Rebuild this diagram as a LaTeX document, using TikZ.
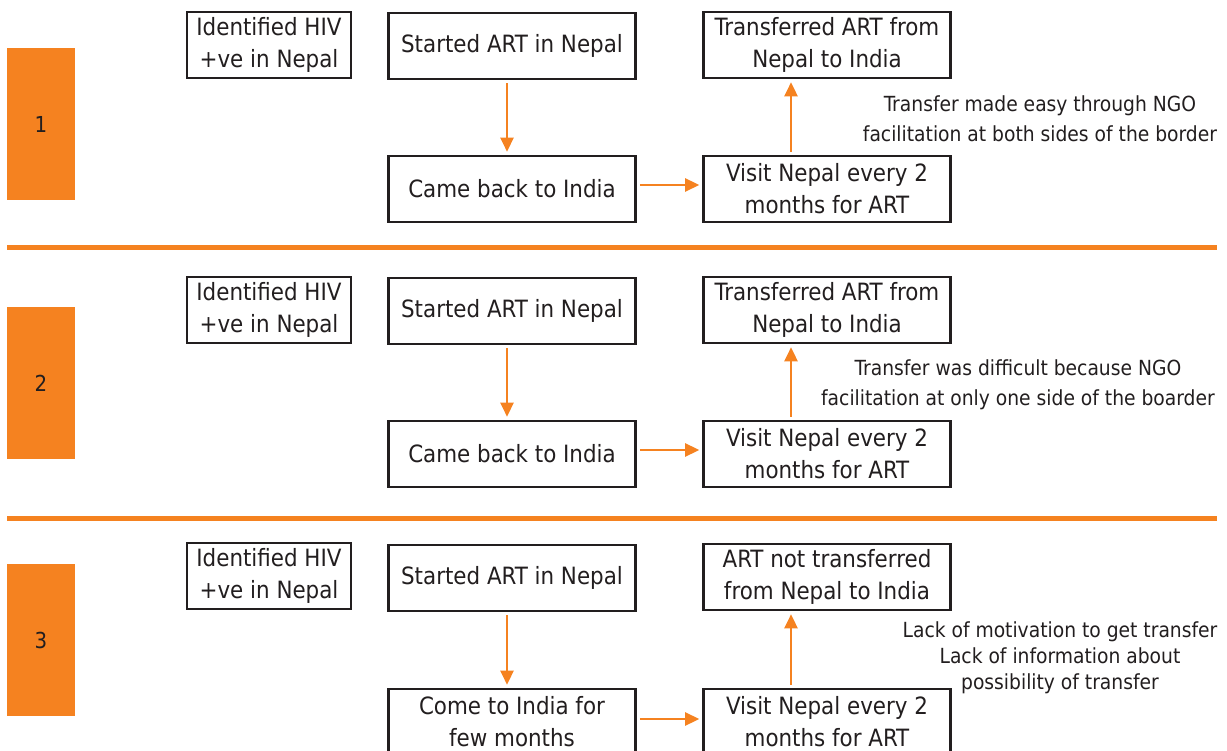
\documentclass[tikz,border=0pt]{standalone}
\usepackage{fontspec}
\setmainfont{DejaVu Sans Condensed}
\usetikzlibrary{arrows.meta}
\definecolor{org}{RGB}{245,130,32}
\definecolor{ink}{RGB}{34,30,31}
\tikzset{
  box/.style={draw=ink, line width=2.6pt, fill=white, align=center, inner sep=0pt,
    minimum height=66pt, text=ink, font=\fontsize{23.8}{32}\selectfont},
  boxA/.style={box, minimum width=164pt},
  boxB/.style={box, minimum width=247pt},
  numbar/.style={fill=org, minimum width=68pt, minimum height=152pt, inner sep=0pt,
    text=ink, font=\fontsize{22}{24}\selectfont},
  arr/.style={draw=org, line width=2.6pt, -{Triangle[length=14pt,width=13pt]},
    shorten <=3pt, shorten >=3pt},
  note/.style={align=center, text=ink, inner sep=0pt, font=\fontsize{20.8}{30}\selectfont},
  sep/.style={draw=org, line width=5pt}
}
\begin{document}
\begin{tikzpicture}[x=1pt,y=-1pt]
\useasboundingbox (0,0) rectangle (1227,751);
\clip (0,0) rectangle (1227,751);
% ---------- panel 1
\node[numbar] (n1) at (41,124) {1};
\node[boxA] (a1) at (269,45) {Identified HIV\\+ve in Nepal};
\node[boxB] (b1) at (512,46) {Started ART in Nepal};
\node[boxB] (c1) at (827,45) {Transferred ART from\\Nepal to India};
\node[boxB] (d1) at (512,189) {Came back to India};
\node[boxB] (e1) at (827,189) {Visit Nepal every 2\\months for ART};
\draw[arr] (b1.south -| 507,0) -- (d1.north -| 507,0);
\draw[arr] (d1.east |- 0,185) -- (e1.west |- 0,185);
\draw[arr] (e1.north -| 791,0) -- (c1.south -| 791,0);
\node[note] (t1) at (1040,119) {Transfer made easy through NGO\\facilitation at both sides of the border};
\coordinate (s1a) at (7,247.5);
\coordinate (s1b) at (1217,247.5);
\draw[sep] (s1a) -- (s1b);
% ---------- panel 2
\node[numbar] (n2) at (41,383) {2};
\node[boxA] (a2) at (269,310) {Identified HIV\\+ve in Nepal};
\node[boxB] (b2) at (512,311) {Started ART in Nepal};
\node[boxB] (c2) at (827,310) {Transferred ART from\\Nepal to India};
\node[boxB] (d2) at (512,454) {Came back to India};
\node[boxB] (e2) at (827,454) {Visit Nepal every 2\\months for ART};
\draw[arr] (b2.south -| 507,0) -- (d2.north -| 507,0);
\draw[arr] (d2.east |- 0,450) -- (e2.west |- 0,450);
\draw[arr] (e2.north -| 791,0) -- (c2.south -| 791,0);
\node[note] (t2) at (1018,385) {Transfer was difficult because NGO\\facilitation at only one side of the boarder};
\coordinate (s2a) at (7,518);
\coordinate (s2b) at (1217,518);
\draw[sep] (s2a) -- (s2b);
% ---------- panel 3
\node[numbar] (n3) at (41,640) {3};
\node[boxA] (a3) at (269,576) {Identified HIV\\+ve in Nepal};
\node[boxB] (b3) at (512,578) {Started ART in Nepal};
\node[boxB] (c3) at (827,577) {ART not transferred\\from Nepal to India};
\node[boxB] (d3) at (512,722) {Come to India for\\few months};
\node[boxB] (e3) at (827,722) {Visit Nepal every 2\\months for ART};
\draw[arr] (b3.south -| 507,0) -- (d3.north -| 507,0);
\draw[arr] (d3.east |- 0,719) -- (e3.west |- 0,719);
\draw[arr] (e3.north -| 791,0) -- (c3.south -| 791,0);
\node[note, font=\fontsize{20.8}{26}\selectfont] (t3) at (1060,658) {Lack of motivation to get transfer\\Lack of information about\\possibility of transfer};
\end{tikzpicture}
\end{document}
